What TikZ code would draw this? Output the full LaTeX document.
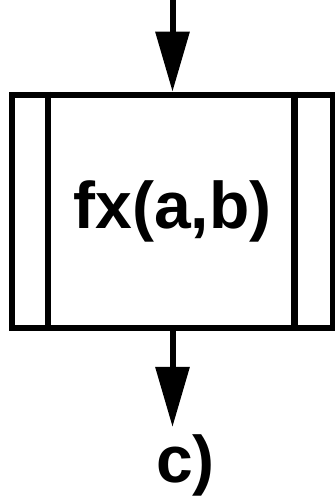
\documentclass[tikz,border=0pt]{standalone}
\usepackage{fontspec}
\setmainfont{Liberation Sans}
\usepackage{tikz}
\usetikzlibrary{positioning,calc,arrows.meta}

\begin{document}
\begin{tikzpicture}[x=1pt, y=1pt, >={Triangle[length=60pt,width=33pt]},
  flowline/.style={line width=6pt, ->},
  bigtext/.style={font=\fontsize{66}{72}\selectfont\bfseries}]
  \useasboundingbox (0,0) rectangle (335,504);

  % Predefined process block
  \node[draw, line width=6.5pt, minimum width=321pt, minimum height=233pt, inner sep=0pt, bigtext] (proc) at (172.5, 292.5) {fx(a,b)};
  \draw[line width=6.5pt] ($(proc.north west)+(39,0)$) -- ($(proc.south west)+(39,0)$);
  \draw[line width=6.5pt] ($(proc.north east)+(-42,0)$) -- ($(proc.south east)+(-42,0)$);

  % Flow in and out
  \coordinate (inflow) at (172.5, 504);
  \coordinate (outflow) at (172.5, 77);
  \draw[flowline] (inflow) -- (proc.north);
  \draw[flowline] (proc.south) -- (outflow);

  % Caption
  \node[bigtext, anchor=base, inner sep=0pt] (caption) at (185.5, 21) {c)};
\end{tikzpicture}
\end{document}
